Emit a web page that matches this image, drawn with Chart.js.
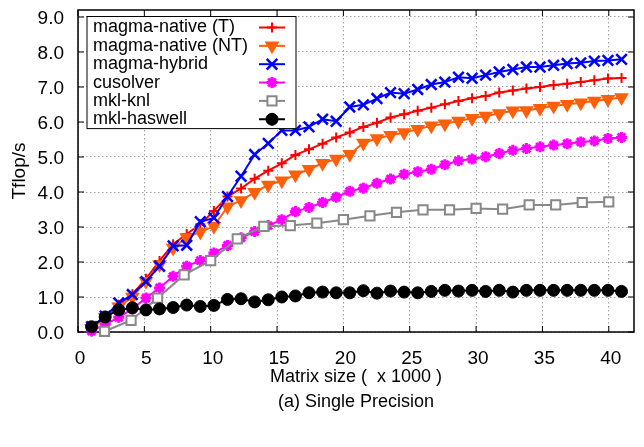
<!DOCTYPE html>
<html>
<head>
<meta charset="utf-8">
<script src="https://cdn.jsdelivr.net/npm/chart.js@4.4.0/dist/chart.umd.min.js"></script>
<style>
  html, body { margin: 0; padding: 0; background: #fff; }
  #wrap { width: 644px; height: 447px; }
</style>
</head>
<body>
<div id="wrap"><canvas id="chart"></canvas></div>
<script>
// matrix sizes (x 1000) : N = 1024, 2048, ... 40960
const sizes = [1.024, 2.048, 3.072, 4.096, 5.12, 6.144, 7.168, 8.192, 9.216, 10.24,
  11.264, 12.288, 13.312, 14.336, 15.36, 16.384, 17.408, 18.432, 19.456, 20.48,
  21.504, 22.528, 23.552, 24.576, 25.6, 26.624, 27.648, 28.672, 29.696, 30.72,
  31.744, 32.768, 33.792, 34.816, 35.84, 36.864, 37.888, 38.912, 39.936, 40.96];
// mkl-knl was run on 2000, 4000, ... 40000
const knlSizes = [2, 4, 6, 8, 10, 12, 14, 16, 18, 20, 22, 24, 26, 28, 30, 32, 34, 36, 38, 40];

const magmaNativeT = [0.12, 0.45, 0.78, 1.08, 1.52, 2.03, 2.51, 2.80, 3.08, 3.46,
  3.87, 4.10, 4.38, 4.61, 4.82, 5.06, 5.22, 5.38, 5.56, 5.70,
  5.86, 5.98, 6.13, 6.22, 6.32, 6.41, 6.51, 6.60, 6.68, 6.74,
  6.84, 6.90, 6.96, 7.00, 7.06, 7.09, 7.14, 7.19, 7.24, 7.26];
const magmaNativeNT = [0.10, 0.42, 0.72, 1.00, 1.45, 1.93, 2.40, 2.70, 2.86, 3.02,
  3.58, 3.76, 3.99, 4.20, 4.32, 4.49, 4.65, 4.82, 4.94, 5.08,
  5.40, 5.53, 5.62, 5.70, 5.79, 5.89, 5.95, 6.03, 6.11, 6.17,
  6.24, 6.32, 6.33, 6.39, 6.46, 6.51, 6.55, 6.60, 6.65, 6.70];
const magmaHybrid = [0.15, 0.45, 0.83, 1.07, 1.44, 1.88, 2.46, 2.48, 3.15, 3.26,
  3.87, 4.45, 5.07, 5.39, 5.76, 5.76, 5.86, 6.08, 6.02, 6.43,
  6.49, 6.67, 6.84, 6.81, 6.93, 7.07, 7.14, 7.28, 7.25, 7.34,
  7.43, 7.50, 7.57, 7.57, 7.62, 7.67, 7.69, 7.74, 7.76, 7.79];
const cusolver = [0.03, 0.22, 0.42, 0.66, 0.97, 1.26, 1.59, 1.88, 2.04, 2.26,
  2.47, 2.69, 2.87, 3.04, 3.21, 3.44, 3.56, 3.70, 3.85, 4.02,
  4.11, 4.25, 4.37, 4.51, 4.58, 4.65, 4.78, 4.89, 4.94, 5.01,
  5.10, 5.19, 5.24, 5.29, 5.34, 5.38, 5.43, 5.46, 5.53, 5.56];
const mklKnl = [0.02, 0.33, 0.97, 1.63, 2.04, 2.66, 3.02, 3.04, 3.11, 3.21,
  3.32, 3.42, 3.49, 3.49, 3.53, 3.51, 3.63, 3.63, 3.70, 3.72];
const mklHaswell = [0.15, 0.43, 0.63, 0.69, 0.63, 0.66, 0.70, 0.77, 0.73, 0.76,
  0.93, 0.95, 0.86, 0.92, 1.00, 1.03, 1.12, 1.14, 1.12, 1.12,
  1.18, 1.11, 1.17, 1.14, 1.12, 1.16, 1.19, 1.17, 1.19, 1.16,
  1.19, 1.14, 1.19, 1.19, 1.19, 1.19, 1.19, 1.19, 1.19, 1.16];

const FONT = '"Liberation Sans", Arial, Helvetica, sans-serif';

function pts(xs, ys) {
  return ys.map((y, i) => ({ x: xs[i], y: y }));
}

// gnuplot-like series: line + marker, later series drawn on top
function series(label, xs, ys, color, style, radius, extra) {
  return Object.assign({
    label: label,
    data: pts(xs, ys),
    borderColor: color,
    backgroundColor: color,
    borderWidth: 2,
    pointStyle: style,
    pointRadius: radius,
    pointBorderColor: color,
    pointBackgroundColor: color,
    pointBorderWidth: 2,
    pointRotation: 0,
    tension: 0,
    clip: false
  }, extra || {});
}

const datasets = [
  series('magma-native (T)', sizes, magmaNativeT, '#ff0000', 'cross', 5, { order: 6 }),
  series('magma-native (NT)', sizes, magmaNativeNT, '#ff5f0a', 'triangle', 6.5, { order: 5, pointRotation: 180 }),
  series('magma-hybrid', sizes, magmaHybrid, '#0000ff', 'crossRot', 7.5, { order: 4, pointBorderWidth: 2.5 }),
  series('cusolver', sizes, cusolver, '#ff00ff', 'star', 5.5, { order: 3, pointBorderWidth: 3 }),
  series('mkl-knl', knlSizes, mklKnl, '#888888', 'rect', 6.5, { order: 2, pointBackgroundColor: '#ffffff' }),
  series('mkl-haswell', sizes, mklHaswell, '#000000', 'circle', 6, { order: 1, pointBorderWidth: 1 })
];

// frame with inward tics on all four sides
const framePlugin = {
  id: 'frame',
  beforeDatasetsDraw(chart) {
    const { ctx, chartArea: a, scales } = chart;
    ctx.save();
    ctx.strokeStyle = '#000';
    ctx.lineWidth = 1.5;
    ctx.strokeRect(a.left, a.top, a.right - a.left, a.bottom - a.top);
    ctx.lineWidth = 1;
    ctx.beginPath();
    scales.x.ticks.forEach(t => {
      const px = scales.x.getPixelForValue(t.value);
      ctx.moveTo(px, a.bottom); ctx.lineTo(px, a.bottom - 6);
      ctx.moveTo(px, a.top); ctx.lineTo(px, a.top + 6);
    });
    scales.y.ticks.forEach(t => {
      const py = scales.y.getPixelForValue(t.value);
      ctx.moveTo(a.left, py); ctx.lineTo(a.left + 6, py);
      ctx.moveTo(a.right, py); ctx.lineTo(a.right - 6, py);
    });
    ctx.stroke();
    ctx.restore();
  }
};

// key: text on the left, line sample + marker on the right
const keyPlugin = {
  id: 'key',
  afterDatasetsDraw(chart) {
    const { ctx, chartArea: a } = chart;
    const x0 = a.left + 9, y0 = a.top + 6.5, w = 209, rowH = 18.35;
    const h = rowH * 6 + 2;
    ctx.save();
    ctx.fillStyle = '#fff';
    ctx.fillRect(x0, y0, w, h);
    ctx.strokeStyle = '#000';
    ctx.lineWidth = 1;
    ctx.strokeRect(x0, y0, w, h);
    chart.data.datasets.forEach((ds, i) => {
      const cy = y0 + 11 + i * rowH;
      ctx.fillStyle = '#000';
      ctx.font = '18px ' + FONT;
      ctx.textBaseline = 'middle';
      ctx.textAlign = 'left';
      ctx.fillText(ds.label, x0 + 6, cy);
      ctx.strokeStyle = ds.borderColor;
      ctx.lineWidth = ds.borderWidth;
      ctx.beginPath();
      ctx.moveTo(x0 + 172, cy);
      ctx.lineTo(x0 + 198, cy);
      ctx.stroke();
      ctx.fillStyle = ds.pointBackgroundColor;
      ctx.strokeStyle = ds.pointBorderColor;
      ctx.lineWidth = ds.pointBorderWidth;
      Chart.helpers.drawPoint(ctx, {
        pointStyle: ds.pointStyle,
        rotation: ds.pointRotation,
        radius: ds.pointRadius,
        borderWidth: ds.pointBorderWidth
      }, x0 + 185, cy);
    });
    ctx.restore();
  }
};

new Chart(document.getElementById('chart'), {
  type: 'line',
  data: { datasets: datasets },
  plugins: [framePlugin, keyPlugin],
  options: {
    responsive: true,
    maintainAspectRatio: false,
    animation: false,
    layout: { padding: { top: 8, right: 1, left: 0, bottom: 0 } },
    plugins: {
      legend: { display: false },
      tooltip: { enabled: false }
    },
    scales: {
      x: {
        type: 'linear',
        min: 0,
        max: 41.9,
        afterFit: s => { s.height = 115; s.paddingLeft = 0; s.paddingRight = 0; },
        ticks: {
          stepSize: 5,
          includeBounds: false,
          padding: 15,
          labelOffset: 2,
          color: '#000',
          maxRotation: 0,
          font: { family: FONT, size: 19 }
        },
        grid: {
          color: '#a0a0a0',
          lineWidth: 1,
          drawTicks: false
        },
        border: { display: false, dash: [1.5, 2.5] },
        title: {
          display: true,
          text: ['Matrix size (  x 1000 )', '(a) Single Precision'],
          color: '#000',
          font: { family: FONT, size: 18, lineHeight: 1.39 },
          padding: { top: 0, bottom: 32 }
        }
      },
      y: {
        min: 0,
        max: 9.2,
        afterFit: s => { s.width = 78; s.paddingTop = 0; s.paddingBottom = 0; },
        ticks: {
          stepSize: 1,
          includeBounds: false,
          padding: 14,
          labelOffset: 2,
          color: '#000',
          font: { family: FONT, size: 19 },
          callback: v => v.toFixed(1)
        },
        grid: {
          color: '#a0a0a0',
          lineWidth: 1,
          drawTicks: false
        },
        border: { display: false, dash: [1.5, 2.5] },
        title: {
          display: true,
          text: 'Tflop/s',
          color: '#000',
          font: { family: FONT, size: 19 },
          padding: { top: 8, bottom: 0 }
        }
      }
    }
  }
});
</script>
</body>
</html>
